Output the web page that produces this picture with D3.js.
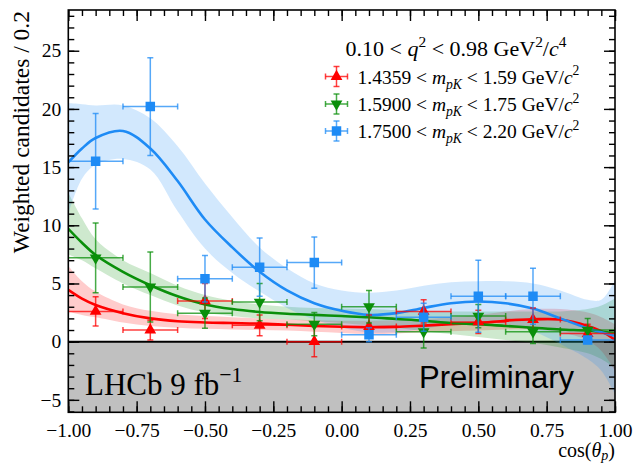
<!DOCTYPE html>
<html>
<head>
<meta charset="utf-8">
<script src="https://cdn.jsdelivr.net/npm/d3@7"></script>
<style>
  body { margin: 0; background: #fff; }
  svg { display: block; }
</style>
</head>
<body>
<svg id="chart" width="636" height="464"></svg>
<script>
// --- data ---
const binCentres = [-0.9, -0.7, -0.5, -0.3, -0.1, 0.1, 0.3, 0.5, 0.7, 0.9];
const binHalfWidth = 0.1;

const redVals   = [2.6, 1.0, 3.5, 1.4, 0.0, 1.3, 2.6, 1.7, 1.9, 0.7];
const redErrs   = [1.25, 0.85, 1.5, 0.9, 1.3, 1.0, 1.0, 1.0, 1.0, 0.8];
const greenVals = [7.2, 4.7, 2.45, 3.4, 1.5, 3.0, 0.85, 2.2, 0.85, 1.0];
const greenErrs = [3.0, 3.0, 1.3, 1.6, 1.0, 1.4, 1.4, 1.0, 1.0, 1.0];
const blueVals  = [15.5, 20.2, 5.4, 6.4, 6.8, 0.6, 2.1, 3.9, 3.9, 0.15];
const blueErrs  = [4.1, 4.2, 2.0, 2.5, 2.2, 0.6, 1.2, 3.1, 2.4, 0.3];

// fitted curves and their bands
const fitX = [-1, -0.95, -0.9, -0.8, -0.7, -0.6, -0.5, -0.4, -0.3, -0.2, -0.1,
              0, 0.1, 0.2, 0.3, 0.4, 0.5, 0.6, 0.7, 0.8, 0.9, 0.95, 1];
const redFit   = [4.45, 3.7, 3.15, 2.45, 2.0, 1.75, 1.65, 1.6, 1.55, 1.45, 1.35,
                  1.28, 1.24, 1.27, 1.38, 1.5, 1.6, 1.8, 1.92, 1.9, 1.35, 0.9, 0.15];
const redLo    = [2.6, 2.3, 2.1, 1.65, 1.35, 1.2, 1.1, 1.05, 1.0, 0.95, 0.85,
                  0.75, 0.65, 0.7, 0.8, 0.9, 0.95, 1.05, 1.05, 0.8, 0.1, -0.8, -2.5];
const redHi    = [6.5, 5.2, 4.3, 3.2, 2.65, 2.35, 2.2, 2.1, 2.0, 1.9, 1.85,
                  1.8, 1.8, 1.85, 1.95, 2.1, 2.3, 2.6, 2.8, 2.8, 2.5, 2.1, 1.5];
const greenFit = [9.7, 8.5, 7.45, 6.0, 4.85, 3.9, 3.2, 2.8, 2.55, 2.4, 2.3,
                  2.2, 2.1, 1.95, 1.8, 1.6, 1.5, 1.35, 1.2, 1.05, 0.95, 0.85, 0.75];
const greenLo  = [7.5, 7.0, 6.3, 5.0, 4.0, 3.1, 2.5, 2.2, 2.0, 1.9, 1.75,
                  1.6, 1.4, 1.2, 0.9, 0.65, 0.4, 0.15, -0.1, -0.5, -1.0, -1.5, -2.3];
const greenHi  = [12.8, 10.6, 8.8, 7.0, 5.9, 4.8, 4.0, 3.5, 3.2, 3.0, 2.9,
                  2.85, 2.8, 2.7, 2.6, 2.6, 2.6, 2.6, 2.6, 2.6, 2.8, 3.1, 3.7];
const blueFit  = [15.4, 16.6, 17.5, 18.1, 16.6, 13.8, 10.5, 8.1, 6.0, 4.4, 3.3,
                  2.65, 2.3, 2.45, 2.9, 3.3, 3.45, 3.3, 2.85, 2.0, 1.15, 0.8, 0.5];
const blueLo   = [11.0, 14.0, 15.2, 15.7, 14.8, 11.2, 8.0, 5.9, 4.3, 2.9, 1.9,
                  1.2, 0.8, 0.8, 1.1, 1.5, 1.7, 1.5, 0.9, -0.2, -1.5, -2.5, -4.5];
const blueHi   = [20.5, 20.4, 20.3, 20.3, 19.2, 16.8, 13.6, 10.7, 8.1, 6.3, 5.0,
                  4.4, 4.2, 4.4, 4.8, 5.1, 5.2, 5.2, 5.0, 4.4, 3.6, 3.6, 5.3];

const xTickValues = [-1, -0.75, -0.5, -0.25, 0, 0.25, 0.5, 0.75, 1];
const yTickValues = [-5, 0, 5, 10, 15, 20, 25];

const legendTitle = [['0.10 < ', ''], ['q', 'i'], ['2', 'sup'], [' < 0.98 GeV', ''], ['2', 'sup'], ['/', ''], ['c', 'i'], ['4', 'sup']];
const legendLabels = [
  [['1.4359 < ', ''], ['m', 'i'], ['pK', 'isub'], [' < 1.59 GeV/', ''], ['c', 'i'], ['2', 'sup']],
  [['1.5900 < ', ''], ['m', 'i'], ['pK', 'isub'], [' < 1.75 GeV/', ''], ['c', 'i'], ['2', 'sup']],
  [['1.7500 < ', ''], ['m', 'i'], ['pK', 'isub'], [' < 2.20 GeV/', ''], ['c', 'i'], ['2', 'sup']]
];

const series = [
  { vals: redVals, errs: redErrs, fit: redFit, lo: redLo, hi: redHi, color: '#ff0000', marker: 'up' },
  { vals: greenVals, errs: greenErrs, fit: greenFit, lo: greenLo, hi: greenHi, color: '#0a8f0a', marker: 'down' },
  { vals: blueVals, errs: blueErrs, fit: blueFit, lo: blueLo, hi: blueHi, color: '#1e8bf5', marker: 'square' }
];

// --- layout ---
const serif = '"Liberation Serif", "DejaVu Serif", serif';
const sans = '"Liberation Sans", Arial, sans-serif';
const plot = { left: 68.3, right: 615, top: 10, bottom: 412.3 };

const svg = d3.select('#chart');
const x = d3.scaleLinear().domain([-1, 1]).range([plot.left, plot.right]);
const y = d3.scaleLinear().domain([-6.07, 28.5]).range([plot.bottom, plot.top]);

svg.append('defs').append('clipPath').attr('id', 'plotClip')
  .append('rect')
    .attr('x', plot.left).attr('y', plot.top)
    .attr('width', plot.right - plot.left).attr('height', plot.bottom - plot.top);

const body = svg.append('g').attr('clip-path', 'url(#plotClip)');

// grey region below zero
body.append('rect')
  .attr('x', plot.left).attr('y', y(0))
  .attr('width', plot.right - plot.left).attr('height', plot.bottom - y(0))
  .attr('fill', '#c0c0c0');

body.append('line')
  .attr('x1', plot.left).attr('x2', plot.right)
  .attr('y1', y(0)).attr('y2', y(0))
  .attr('stroke', '#000').attr('stroke-width', 2);

const smooth = d3.curveCatmullRom.alpha(0.5);

const band = d3.area()
  .x((d, i) => x(fitX[i]))
  .y0(d => y(d[0]))
  .y1(d => y(d[1]))
  .curve(smooth);

const line = d3.line()
  .x((d, i) => x(fitX[i]))
  .y(d => y(d))
  .curve(smooth);

series.forEach(s => {
  body.append('path')
    .attr('d', band(s.lo.map((v, i) => [v, s.hi[i]])))
    .attr('fill', s.color).attr('fill-opacity', 0.2);
});
series.forEach(s => {
  body.append('path')
    .attr('d', line(s.fit))
    .attr('fill', 'none')
    .attr('stroke', s.color).attr('stroke-width', 2.6);
});

function markerPath(kind) {
  if (kind === 'square') return d3.symbol(d3.symbolSquare, 90)();
  return d3.symbol(d3.symbolTriangle, 60)();
}

function drawPoint(g, cx, cy, color, kind, xl, xr, yt, yb) {
  const cap = 3;
  const eb = g.append('g')
    .attr('stroke', color).attr('stroke-width', 1.5).attr('stroke-opacity', 0.75);
  eb.append('line').attr('x1', xl).attr('x2', xr).attr('y1', cy).attr('y2', cy);
  eb.append('line').attr('x1', cx).attr('x2', cx).attr('y1', yt).attr('y2', yb);
  eb.append('line').attr('x1', xl).attr('x2', xl).attr('y1', cy - cap).attr('y2', cy + cap);
  eb.append('line').attr('x1', xr).attr('x2', xr).attr('y1', cy - cap).attr('y2', cy + cap);
  eb.append('line').attr('x1', cx - cap).attr('x2', cx + cap).attr('y1', yt).attr('y2', yt);
  eb.append('line').attr('x1', cx - cap).attr('x2', cx + cap).attr('y1', yb).attr('y2', yb);
  g.append('path')
    .attr('d', markerPath(kind))
    .attr('transform', `translate(${cx},${cy})` + (kind === 'down' ? ' rotate(180)' : ''))
    .attr('fill', color);
}

const pts = svg.append('g').attr('clip-path', 'url(#plotClip)');
series.forEach(s => {
  binCentres.forEach((c, i) => {
    drawPoint(pts, x(c), y(s.vals[i]), s.color, s.marker,
      x(c - binHalfWidth), x(c + binHalfWidth),
      y(s.vals[i] + s.errs[i]), y(s.vals[i] - s.errs[i]));
  });
});

// --- axes: inward ticks on all four sides ---
const majorLen = 11, minorLen = 6;
const xMinor = d3.range(-1, 1.0001, 0.05);
const yMinor = d3.range(-6, 28.5, 1);

function tickAxis(axisFn, scale, values, len, fmt) {
  return axisFn(scale).tickValues(values).tickSize(-len).tickSizeOuter(0).tickFormat(fmt || '');
}

function styleAxis(g) {
  g.select('.domain').remove();
  g.selectAll('line').attr('stroke', '#000').attr('stroke-width', 1.4);
  g.selectAll('text').attr('fill', '#000').attr('font-family', serif).attr('font-size', 19.5);
}

svg.append('g').attr('transform', `translate(0,${plot.bottom})`)
  .call(tickAxis(d3.axisBottom, x, xMinor, minorLen)).call(styleAxis);
svg.append('g').attr('transform', `translate(0,${plot.bottom})`)
  .call(tickAxis(d3.axisBottom, x, xTickValues, majorLen, d3.format('.2f')).tickPadding(11))
  .call(styleAxis);
svg.append('g').attr('transform', `translate(0,${plot.top})`)
  .call(tickAxis(d3.axisTop, x, xMinor, minorLen)).call(styleAxis);
svg.append('g').attr('transform', `translate(0,${plot.top})`)
  .call(tickAxis(d3.axisTop, x, xTickValues, majorLen)).call(styleAxis);

svg.append('g').attr('transform', `translate(${plot.left},0)`)
  .call(tickAxis(d3.axisLeft, y, yMinor, minorLen)).call(styleAxis);
svg.append('g').attr('transform', `translate(${plot.left},0)`)
  .call(tickAxis(d3.axisLeft, y, yTickValues, majorLen, d3.format('d')).tickPadding(7))
  .call(styleAxis);
svg.append('g').attr('transform', `translate(${plot.right},0)`)
  .call(tickAxis(d3.axisRight, y, yMinor, minorLen)).call(styleAxis);
svg.append('g').attr('transform', `translate(${plot.right},0)`)
  .call(tickAxis(d3.axisRight, y, yTickValues, majorLen)).call(styleAxis);

svg.append('rect')
  .attr('x', plot.left).attr('y', plot.top)
  .attr('width', plot.right - plot.left).attr('height', plot.bottom - plot.top)
  .attr('fill', 'none').attr('stroke', '#000').attr('stroke-width', 1.6);

// --- text helpers ---
function richText(sel, parts, size, subShift) {
  const sub = subShift === undefined ? 0.28 : subShift;
  let shift = 0;
  parts.forEach(([t, st]) => {
    const target = st.includes('sub') ? sub * size : st.includes('sup') ? -0.42 * size : 0;
    const ts = sel.append('tspan').text(t).attr('dy', target - shift);
    shift = target;
    if (st.includes('i')) ts.attr('font-style', 'italic');
    if (target !== 0) ts.attr('font-size', size * 0.7);
  });
}

// axis titles
svg.append('text')
  .attr('transform', 'translate(29,11) rotate(-90)')
  .attr('text-anchor', 'end')
  .attr('font-family', serif).attr('font-size', 23.5)
  .text('Weighted candidates / 0.2');

const xTitle = svg.append('text')
  .attr('x', plot.right).attr('y', 457)
  .attr('text-anchor', 'end')
  .attr('font-family', serif).attr('font-size', 20);
richText(xTitle, [['cos(', ''], ['θ', 'i'], ['p', 'isub'], [')', '']], 20, 0.15);

// legend
const legTitle = svg.append('text')
  .attr('x', 456).attr('y', 56)
  .attr('text-anchor', 'middle')
  .attr('font-family', serif).attr('font-size', 22);
richText(legTitle, legendTitle, 22);

const legRows = [76.5, 104, 131];
series.forEach((s, i) => {
  const cy = legRows[i];
  const lg = svg.append('g');
  drawPoint(lg, 336.5, cy, s.color, s.marker, 325.5, 347.5, cy - 10, cy + 10);
  const t = svg.append('text')
    .attr('x', 357.5).attr('y', cy + 7)
    .attr('font-family', serif).attr('font-size', 19.5);
  richText(t, legendLabels[i], 19.5);
});

// labels inside the grey region
const lhcb = svg.append('text')
  .attr('x', 85).attr('y', 395)
  .attr('font-family', serif).attr('font-size', 31);
richText(lhcb, [['LHCb 9 fb', ''], ['−1', 'sup']], 31);

svg.append('text')
  .attr('x', 419).attr('y', 388)
  .attr('font-family', sans).attr('font-size', 31)
  .text('Preliminary');
</script>
</body>
</html>
